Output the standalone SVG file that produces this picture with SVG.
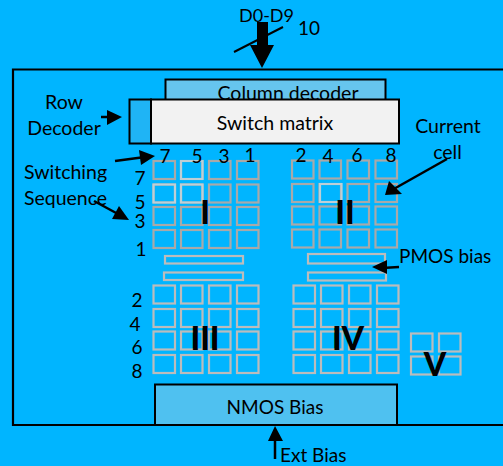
<svg xmlns="http://www.w3.org/2000/svg" width="503" height="466" viewBox="0 0 503 466">
<style>
text{font-family:"Lato","Carlito","Open Sans",sans-serif;fill:#000;font-size:19.500px}
.m{text-anchor:middle}
.n{font-size:19px}
.b{font-weight:900;font-size:32px}
.blk{stroke:#000;stroke-width:2}
.c{fill:none;stroke:#a9a9a9;stroke-width:2.2}
.d{fill:none;stroke:#bcbcbc;stroke-width:2.2}
.h{fill:none;stroke:#bfcfd6;stroke-width:2.2}
.l{stroke:#000;stroke-width:2.500;fill:none}
.a{fill:#000;stroke:none}
</style>
<defs>
<g id="row4t"><rect class="c" x="0" y="0" width="21.500" height="18"/><rect class="c" x="27.500" y="0" width="21.500" height="18"/><rect class="c" x="55.500" y="0" width="21.500" height="18"/><rect class="c" x="83.500" y="0" width="21.500" height="18"/></g>
<g id="row4b"><rect class="d" x="0" y="0" width="21.500" height="18"/><rect class="d" x="27.500" y="0" width="21.500" height="18"/><rect class="d" x="55.500" y="0" width="21.500" height="18"/><rect class="d" x="83.500" y="0" width="21.500" height="18"/></g>
</defs>
<rect width="503" height="466" fill="#00b5ff"/>
<g id="chip"><path d="M504 69.500H13V425H504" fill="none" stroke="#000" stroke-width="2.200"/></g>
<g id="column-decoder"><rect class="blk" x="165.500" y="79.500" width="220" height="21" fill="#66c5ee"/><text class="m" x="288" y="100">Column decoder</text></g>
<g id="row-decoder"><rect class="blk" x="129.500" y="99.500" width="21.500" height="44" fill="#1fb4f5"/><text class="m" x="64" y="109">Row</text><text class="m" x="64" y="135">Decoder</text></g>
<g id="switch-matrix"><rect class="blk" x="151" y="99.500" width="248" height="44" fill="#f2f2f2"/><text class="m" x="275" y="130">Switch matrix</text></g>
<g id="nmos-bias"><rect class="blk" x="155" y="384.500" width="242" height="40.500" fill="#4fc1f0"/><text class="m n" x="275" y="414">NMOS Bias</text></g>
<g id="quadrant-1"><use href="#row4t" x="153.500" y="161"/><use href="#row4t" x="153.500" y="184.500"/><use href="#row4t" x="153.500" y="207"/><use href="#row4t" x="153.500" y="230"/><path class="h" d="M181 161h21.500v18h-21.500zM153.500 184.500h21.500v18h-21.500zM181 184.500h21.500v18h-21.500z"/><text class="m b" x="205" y="224">I</text></g>
<g id="quadrant-2"><use href="#row4t" x="292" y="160.500"/><use href="#row4t" x="292" y="184"/><use href="#row4t" x="292" y="206.500"/><use href="#row4t" x="292" y="229.500"/><path class="h" d="M320 184h21.500v18h-21.500z"/><text class="m b" x="345" y="224">II</text></g>
<g id="quadrant-3"><use href="#row4b" x="153.500" y="285.500"/><use href="#row4b" x="153.500" y="309"/><use href="#row4b" x="153.500" y="331.500"/><use href="#row4b" x="153.500" y="355"/><text class="m b" x="205" y="350">III</text></g>
<g id="quadrant-4"><use href="#row4b" x="293.500" y="285.500"/><use href="#row4b" x="293.500" y="309"/><use href="#row4b" x="293.500" y="331.500"/><use href="#row4b" x="293.500" y="355"/><text class="m b" x="348" y="350">IV</text></g>
<g id="quadrant-5"><rect class="d" x="411" y="333.500" width="21.500" height="18"/><rect class="d" x="439" y="333.500" width="21.500" height="18"/><rect class="d" x="411" y="356.500" width="21.500" height="18"/><rect class="d" x="439" y="356.500" width="21.500" height="18"/><text class="m b" x="435" y="376">V</text></g>
<g id="bias-bars"><rect class="d" x="165" y="256" width="78" height="7.500"/><rect class="d" x="164" y="272.500" width="79" height="7.500"/><rect class="d" x="308" y="254" width="77" height="9.500"/><rect class="d" x="308" y="272.500" width="78" height="8"/></g>
<g id="labels">
<text class="m" x="266.500" y="22" style="font-size:18px">D0-D9</text><text class="n" x="298" y="35">10</text>
<text x="165" y="163" class="m n">7</text><text x="197" y="163" class="m n">5</text><text x="224" y="163" class="m n">3</text><text x="250" y="162" class="m n">1</text>
<text x="301" y="162" class="m n">2</text><text x="328" y="163" class="m n">4</text><text x="357" y="162" class="m n">6</text><text x="391" y="162" class="m n">8</text>
<text x="140" y="185" class="m n">7</text><text x="140" y="209" class="m n">5</text><text x="140" y="228" class="m n">3</text><text x="141" y="256" class="m n">1</text>
<text x="137" y="307" class="m n">2</text><text x="135" y="331" class="m n">4</text><text x="137" y="354" class="m n">6</text><text x="137" y="378" class="m n">8</text>
<text class="m" x="65.500" y="179">Switching</text><text class="m" x="65.500" y="205">Sequence</text>
<text class="m" x="448" y="133">Current</text><text class="m" x="447.500" y="159">cell</text>
<text class="n" x="399" y="263">PMOS bias</text><text class="n" x="280" y="462">Ext Bias</text>
</g>
<g id="connectors">
<path class="l" style="stroke-width:2" d="M234 52L283 27"/>
<path class="a" d="M257 22H268V45H274L262 68L250 45H257Z"/>
<path class="l" d="M101 117H112"/><path class="a" d="M107 110L122 117L107 125Z"/>
<path class="l" d="M115 161L145 157"/><path class="a" d="M139 150L155 156L141 165Z"/>
<path class="l" d="M94 201L118 214"/><path class="a" d="M119 206L129 220L112 219Z"/>
<path class="l" d="M447 159L392 190"/><path class="a" d="M389 181L385 195L402 194Z"/>
<path class="l" d="M399 267L382 268"/><path class="a" d="M387 260L372 267L387 274Z"/>
<path class="l" d="M275 459V436"/><path class="a" d="M275 426L268 441H283Z"/>
</g>
</svg>
